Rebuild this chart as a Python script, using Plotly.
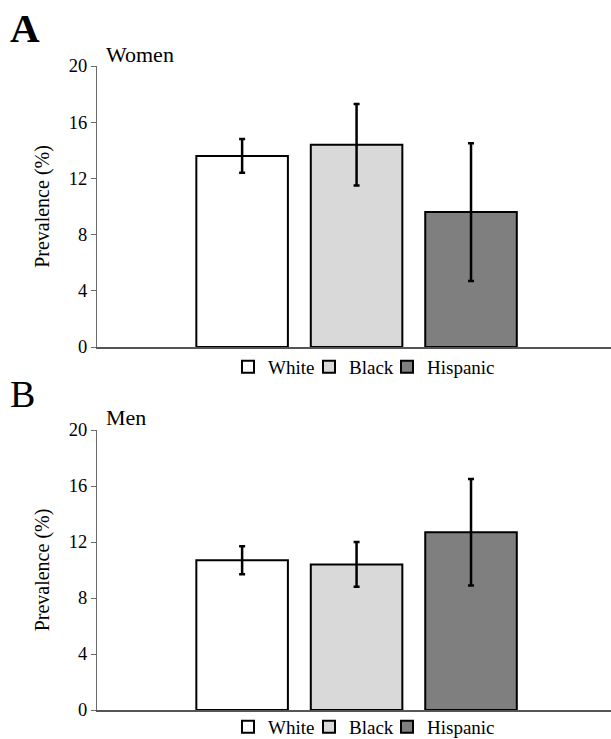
import plotly.graph_objects as go

groups = ["White", "Black", "Hispanic"]
colors = ["#FFFFFF", "#D9D9D9", "#7F7F7F"]
women = [13.6, 14.4, 9.6]
women_err = [1.2, 2.9, 4.9]
men = [10.7, 10.4, 12.7]
men_err = [1.0, 1.6, 3.8]
y_ticks = [0, 4, 8, 12, 16, 20]

W, H = 611, 739
FONT = "Liberation Serif"

def ydom(top_px, bottom_px):
    return [1 - bottom_px / H, 1 - top_px / H]

def px_x(v):
    return v / W

def px_y(v):
    return 1 - v / H

legend_x_px = [228, 309, 387]

fig = go.Figure()
panels = [("x", "y", women, women_err, 1), ("x2", "y2", men, men_err, 4)]
for xa, ya, vals, errs, lstart in panels:
    for i, g in enumerate(groups):
        lname = "legend" if lstart + i == 1 else f"legend{lstart + i}"
        fig.add_trace(go.Bar(
            x=[""], y=[vals[i]], name=g,
            marker=dict(color=colors[i], line=dict(color="black", width=2)),
            error_y=dict(type="data", array=[errs[i]], color="black", thickness=2.5, width=3),
            xaxis=xa, yaxis=ya, legend=lname))

axis_common_y = dict(range=[0, 20], tickvals=y_ticks, showline=True, linecolor="#6b6b6b", linewidth=1,
                     ticks="outside", ticklen=5, tickcolor="#6b6b6b", showgrid=False, zeroline=False,
                     automargin=False,
                     tickfont=dict(family=FONT, size=18.5, color="black"),
                     title=dict(text="Prevalence (%)", font=dict(family=FONT, size=20, color="black"), standoff=13))
axis_common_x = dict(showline=True, linecolor="#555555", linewidth=1.5, showticklabels=False, ticks="",
                     showgrid=False, zeroline=False, automargin=False, range=[-0.505, 0.495])

legend_common = dict(orientation="h", xanchor="left", yanchor="middle",
                     font=dict(family=FONT, size=19, color="black"), itemwidth=30, tracegroupgap=0,
                     bgcolor="rgba(0,0,0,0)")

legends = {}
for k in range(6):
    lname = "legend" if k == 0 else f"legend{k + 1}"
    ypx = 367 if k < 3 else 727
    legends[lname] = dict(x=px_x(legend_x_px[k % 3]), y=px_y(ypx), **legend_common)

fig.update_layout(
    template="none",
    width=W, height=H, plot_bgcolor="white", paper_bgcolor="white",
    margin=dict(l=0, r=0, t=0, b=0, autoexpand=False),
    barmode="group", bargap=0.332, bargroupgap=0.2,
    xaxis=dict(domain=[97 / W, 1], anchor="y", **axis_common_x),
    yaxis=dict(domain=ydom(66, 347), anchor="x", **axis_common_y),
    xaxis2=dict(domain=[97 / W, 1], anchor="y2", **axis_common_x),
    yaxis2=dict(domain=ydom(430, 710), anchor="x2", **axis_common_y),
    showlegend=True,
    **legends,
)

fig.add_annotation(text="<b>A</b>", x=px_x(8), y=px_y(28), xref="paper", yref="paper",
                   xanchor="left", yanchor="middle", showarrow=False,
                   font=dict(family=FONT, size=41, color="black"))
fig.add_annotation(text="B", x=px_x(8), y=px_y(394), xref="paper", yref="paper",
                   xanchor="left", yanchor="middle", showarrow=False,
                   font=dict(family=FONT, size=38, color="black"))
fig.add_annotation(text="Women", x=px_x(104), y=px_y(54), xref="paper", yref="paper", xanchor="left",
                   yanchor="middle", showarrow=False, font=dict(family=FONT, size=22, color="black"))
fig.add_annotation(text="Men", x=px_x(104), y=px_y(417), xref="paper", yref="paper", xanchor="left",
                   yanchor="middle", showarrow=False, font=dict(family=FONT, size=22, color="black"))

fig.write_html("out.html", config={"displayModeBar": False},
               post_script="document.body.style.margin='0';")
